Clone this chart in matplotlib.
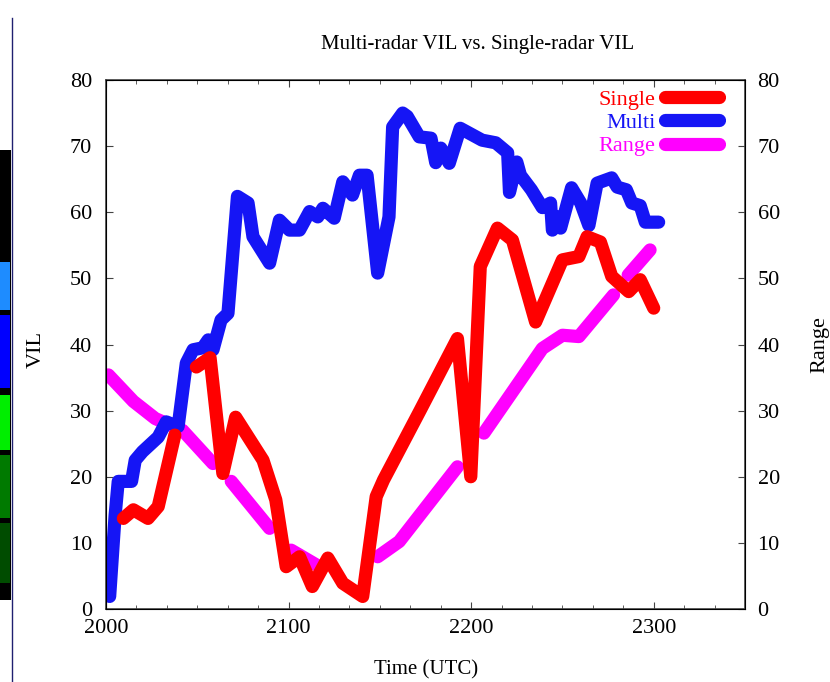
import numpy as np
import matplotlib.pyplot as plt
from matplotlib.patches import Rectangle
from matplotlib.lines import Line2D
from matplotlib.ticker import MultipleLocator

plt.rcParams['font.family'] = ['Liberation Serif', 'DejaVu Serif']

# Multi-radar VIL (time as HHMM-style number, value)
multi_t = [2002, 2005, 2006.7, 2014, 2016, 2020, 2028.6, 2033, 2039.5, 2044, 2047.7, 2053,
           2056, 2058.6, 2063, 2066.8, 2072, 2077.8, 2080.5, 2089.6, 2095, 2100.5, 2106,
           2111.5, 2116, 2118.8, 2125, 2129.7, 2135, 2138.8, 2143, 2148.8, 2155, 2157,
           2162.5, 2165, 2171.6, 2178, 2180.6, 2183.4, 2188, 2194, 2206, 2213.5, 2220,
           2221, 2225, 2227, 2233, 2239, 2243.5, 2244.5, 2247, 2249, 2255, 2260, 2264.5,
           2269, 2277, 2280, 2285, 2288, 2292.6, 2295.4, 2302.7]
multi_v = [1.9, 14.2, 19.3, 19.3, 22.5, 23.8, 26, 28.3, 27.6, 37.2, 39.2, 39.5,
           40.7, 39.2, 43.7, 44.7, 62.4, 61.4, 56.3, 52.3, 58.8, 57.3, 57.3,
           60.1, 59.3, 60.6, 59.1, 64.6, 62.6, 65.6, 65.6, 50.8, 59.3, 72.9,
           75, 74.5, 71.4, 71.2, 67.5, 69.7, 67.4, 72.7, 70.9, 70.5, 69,
           63, 67.6, 65.6, 63.4, 60.7, 61.4, 57.3, 59.3, 57.6, 63.7, 61.4, 58,
           64.4, 65.2, 63.8, 63.4, 61.4, 61, 58.5, 58.5]

# Single-radar VIL (nan = missing)
single_t = [2009.5, 2015, 2023, 2028.6, 2037.7, 2043, 2049.5, 2057, 2064, 2071, 2086, 2093,
            2098.7, 2106, 2113, 2121.5, 2129.7, 2140.6, 2148, 2152, 2172, 2192.5, 2199.8,
            2205, 2214.4, 2222.6, 2235.3, 2250, 2259, 2263.5, 2270.8, 2277, 2286.3,
            2292.6, 2300]
single_v = [13.7, 15, 13.7, 15.5, 26.3, np.nan, 36.6, 38, 20.5, 29, 22.5, 16.5,
            6.4, 7.9, 3.4, 7.7, 3.9, 1.9, 17, 19.5, 30, 40.9, 20,
            51.8, 57.6, 55.8, 43.4, 52.8, 53.3, 56.3, 55.5, 50.3, 48,
            49.8, 45.5]

# Range (nan = missing)
range_t = [2001.3, 2015, 2027, 2042, 2058.6, 2063, 2068.6, 2089.6, 2095, 2101.4, 2115,
           2130, 2148.8, 2160.6, 2192.5, 2200, 2207, 2239, 2250, 2259, 2278, 2282,
           2286, 2298]
range_v = [35.4, 31.4, 28.8, 27, 22, np.nan, 19.3, 12.2, np.nan, 8.9, 6.7,
           np.nan, 7.9, 10.2, 21.5, np.nan, 26.6, 39.4, 41.4, 41.2, 47.5, np.nan,
           50.5, 54.3]

fig = plt.figure(figsize=(8.3, 6.82), dpi=100)
ax = fig.add_axes([106/830, 1-609/682, (745-106)/830, (609-80)/682])

style = dict(lw=9.5, solid_capstyle='round', solid_joinstyle='round')
ax.plot(range_t, range_v, color='#ff00ff', zorder=2, **style)
ax.plot(multi_t, multi_v, color='#1515f5', zorder=3, **style)
ax.plot(single_t, single_v, color='#ff0000', zorder=4, **style)

ax.set_xlim(2000, 2350)
ax.set_ylim(0, 80)
ax.set_xticks([2000, 2100, 2200, 2300])
ax.xaxis.set_minor_locator(MultipleLocator(100/6))
ax.set_yticks(range(0, 81, 10))
ax.tick_params(which='both', direction='in', top=True, labelsize=16, color='#444444')
ax.tick_params(axis='y', pad=10)
ax.tick_params(axis='x', pad=7)
ax.tick_params(which='major', length=5)
ax.tick_params(which='minor', length=3)
for s in ax.spines.values():
    s.set_color('#444444')
    s.set_linewidth(1.2)

ax2 = ax.twinx()
ax2.set_ylim(0, 80)
ax2.set_yticks(range(0, 81, 10))
ax2.tick_params(direction='in', length=5, labelsize=16, pad=9, color='#444444')

handles = [Line2D([], [], color='#ff0000', **style),
           Line2D([], [], color='#1515f5', **style),
           Line2D([], [], color='#ff00ff', **style)]
ax.legend(handles, ['Single', 'Multi', 'Range'], loc='upper right',
          bbox_to_anchor=(0.99, 1.02), markerfirst=False, labelcolor='linecolor',
          frameon=False, fontsize=16, handlelength=2.4, labelspacing=0.12,
          handletextpad=0.45)

fig.text(478/830, 1-45/682, 'Multi-radar VIL vs. Single-radar VIL', ha='center', va='center', fontsize=15)
fig.text(426/830, 1-670/682, 'Time (UTC)', ha='center', va='center', fontsize=15)
fig.text(36/830, 1-350/682, 'VIL', ha='center', va='center', rotation=90, fontsize=16)
fig.text(820/830, 1-345/682, 'Range', ha='center', va='center', rotation=90, fontsize=16)

# cropped neighbouring panel on the left edge
cell_top = [262, 315, 395, 455, 523]
cell_bot = [310, 388, 450, 518, 583]
cell_col = ['#1e8cff', '#0000ff', '#00ee00', '#007a00', '#004c00']
fig.add_artist(Rectangle((0, 1-600/682), 11/830, 450/682, transform=fig.transFigure,
                         color='black', lw=0))
for top, bot, c in zip(cell_top, cell_bot, cell_col):
    fig.add_artist(Rectangle((0, 1-bot/682), 10/830, (bot-top)/682,
                             transform=fig.transFigure, color=c, lw=0))
fig.add_artist(Line2D([12/830, 12/830], [0, 1-18/682], transform=fig.transFigure,
                      color='#202070', lw=1))

fig.savefig('out.png', dpi=100)
